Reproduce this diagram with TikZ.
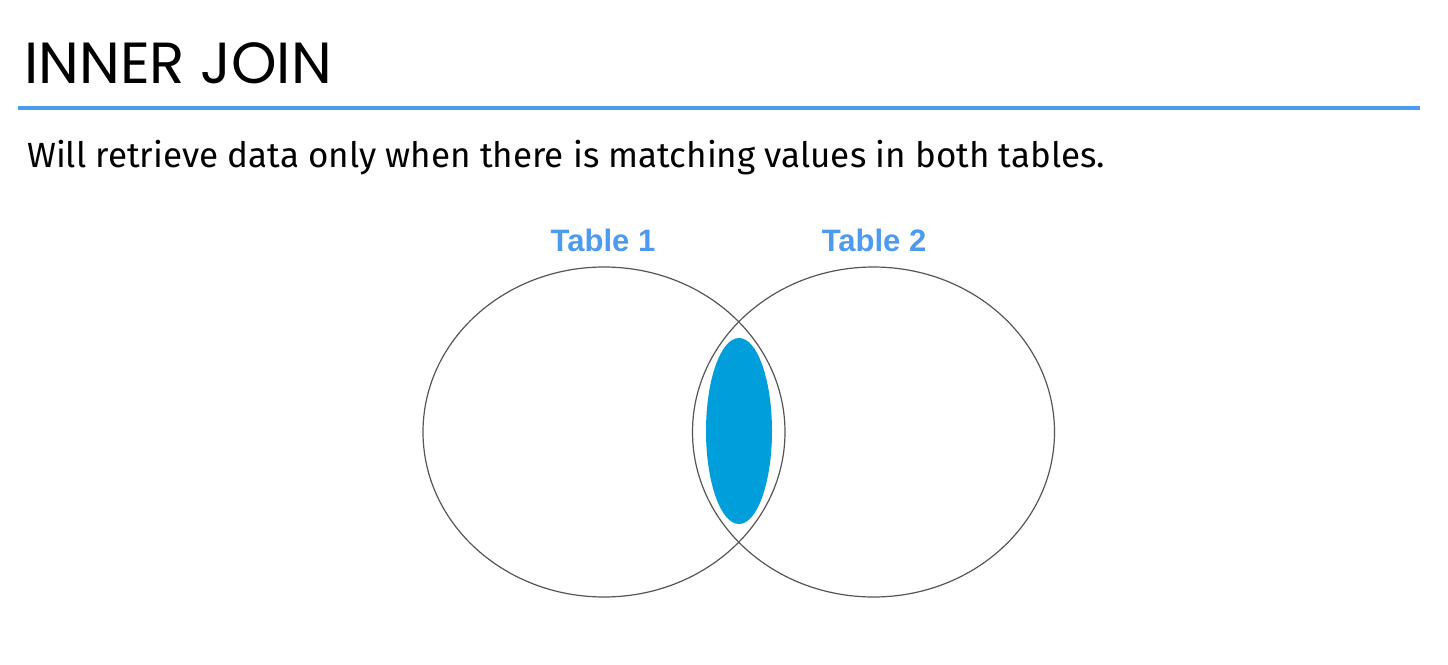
\documentclass[tikz,border=0pt]{standalone}
\usepackage{fontspec}
\setmainfont{Fira Sans}
\newfontfamily\titlefont{Poppins}
\newfontfamily\labelfont{Liberation Sans}
\usetikzlibrary{shapes.geometric}
\definecolor{rulerblue}{HTML}{4A9CF2}
\definecolor{labelblue}{HTML}{4C9BEF}
\definecolor{joinfill}{HTML}{009FDB}
\definecolor{setline}{HTML}{555555}
\begin{document}
\begin{tikzpicture}[x=1pt,y=-1pt,
  setcircle/.style={draw=setline,line width=1.2pt,ellipse,inner sep=0pt,
    minimum width=362pt,minimum height=330pt},
  tablelabel/.style={text=labelblue,font=\labelfont\bfseries\fontsize{31}{36}\selectfont,
    anchor=base,inner sep=0pt},
  heading/.style={anchor=base west,inner sep=0pt}]
  \useasboundingbox[fill=white] (0,0) rectangle (1448,664);
  % heading and rule
  \node[heading,font=\titlefont\fontsize{58}{66}\selectfont] (title) at (24,83) {INNER JOIN};
  \draw[rulerblue,line width=4pt] (18,108) coordinate (ruleL) -- (1420,108) coordinate (ruleR);
  \node[heading,font=\fontsize{35}{42}\selectfont] (subtitle) at (27,167)
    {Will retrieve data only when there is matching values in both tables.};
  % the two sets
  \node[setcircle] (t1) at (604,432) {};
  \node[setcircle] (t2) at (873.5,432) {};
  \node[fill=joinfill,ellipse,inner sep=0pt,minimum width=66pt,minimum height=186pt] (join) at (739,431) {};
  \node[tablelabel] (l1) at (603,251) {Table 1};
  \node[tablelabel] (l2) at (874,251) {Table 2};
\end{tikzpicture}
\end{document}
